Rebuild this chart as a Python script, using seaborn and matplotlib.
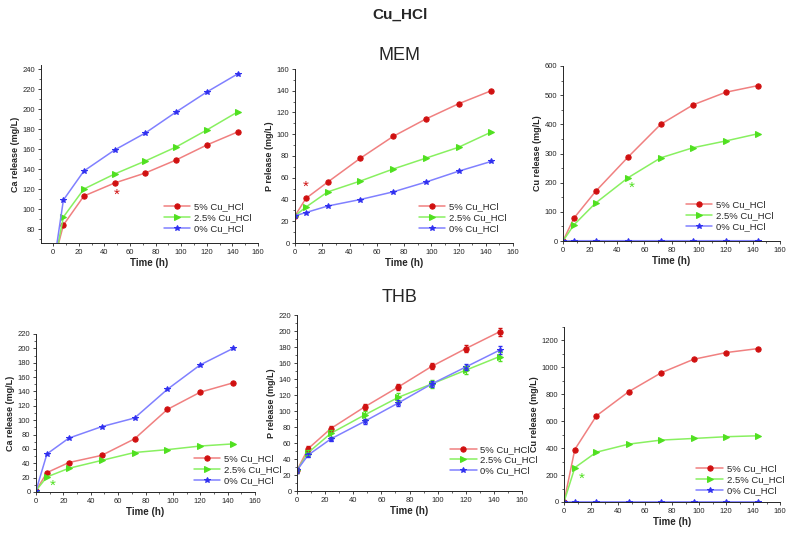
import numpy as np
import pandas as pd
import matplotlib
matplotlib.use("Agg")
import matplotlib.pyplot as plt
from matplotlib.ticker import AutoMinorLocator
import seaborn as sns

sns.set_style("ticks")
plt.rcParams['font.family'] = ['Liberation Sans', 'DejaVu Sans']

# time points (h)
time = [0, 8, 24, 48, 72, 96, 120, 144]
series = ["5% Cu_HCl", "2.5% Cu_HCl", "0% Cu_HCl"]

# MEM
ca_mem_5 = [45, 84, 113, 126, 136, 149, 164, 177]
ca_mem_25 = [40, 92, 120, 135, 148, 162, 179, 197]
ca_mem_0 = [40, 109, 138, 159, 176, 197, 217, 235]

p_mem_5 = [25, 41, 56, 78, 98, 114, 128, 140]
p_mem_25 = [25, 33, 47, 57, 68, 78, 88, 102]
p_mem_0 = [25, 28, 34, 40, 47, 56, 66, 75]

cu_mem_5 = [0, 78, 170, 288, 400, 467, 510, 533]
cu_mem_25 = [0, 55, 130, 217, 285, 320, 343, 368]
cu_mem_0 = [0, 1, 1, 1, 1, 1, 1, 1]

# THB
ca_thb_5 = [2, 27, 41, 51, 74, 115, 139, 152]
ca_thb_25 = [2, 21, 33, 44, 55, 59, 64, 67]
ca_thb_0 = [2, 53, 75, 91, 103, 143, 177, 200]

p_thb_5 = [26, 53, 78, 105, 130, 156, 178, 199]
p_thb_25 = [26, 48, 72, 95, 117, 134, 151, 168]
p_thb_0 = [26, 45, 65, 87, 110, 134, 155, 176]
p_thb_err_5 = [3, 3, 3, 4, 4, 4, 4, 5]
p_thb_err_25 = [3, 3, 4, 5, 5, 5, 5, 6]
p_thb_err_0 = [3, 3, 3, 3, 4, 4, 4, 5]

cu_thb_5 = [0, 390, 640, 820, 960, 1060, 1110, 1140]
cu_thb_25 = [0, 255, 370, 430, 460, 472, 485, 492]
cu_thb_0 = [0, 1, 1, 1, 1, 1, 1, 1]

line_colors = ["#f08080", "#88f060", "#8080ff"]
marker_colors = ["#d01010", "#50e020", "#3030f0"]
markers = ["o", ">", "*"]
marker_sizes = [3.8, 3.8, 4.2]

fig = plt.figure(figsize=(8, 5.4), dpi=100)
W, H = 800, 540


def add_axes(l, r, t, b):
    return fig.add_axes([l / W, 1 - b / H, (r - l) / W, (b - t) / H])


def panel(ax, vals, ylabel, ylim, yticks, xlim=(0, 160), errs=None, star=None, legend_anchor=(1.0, 0.02)):
    rows = []
    for name, v in zip(series, vals):
        for t, y in zip(time, v):
            rows.append({"Time": t, "value": y, "series": name})
    df = pd.DataFrame(rows)
    sns.lineplot(data=df, x="Time", y="value", hue="series", style="series",
                 hue_order=series, style_order=series, palette=line_colors,
                 markers=markers, dashes=False, markersize=4, linewidth=1.1,
                 legend=False, ax=ax)
    lines = ax.lines[:3]
    for ln, mc, ms in zip(lines, marker_colors, marker_sizes):
        ln.set_markerfacecolor(mc)
        ln.set_markeredgecolor(mc)
        ln.set_markersize(ms)
    if errs is not None:
        for v, e, mc in zip(vals, errs, marker_colors):
            ax.errorbar(time, v, yerr=e, fmt="none", ecolor=mc, elinewidth=0.8, capsize=1.5)
    if star is not None:
        x, y, c = star
        ax.text(x, y, "*", color=c, fontsize=11, ha="center", va="center")
    ax.set_xlim(*xlim)
    ax.set_ylim(*ylim)
    ax.set_xticks(range(0, 161, 20))
    ax.set_yticks(yticks)
    ax.xaxis.set_minor_locator(AutoMinorLocator(2))
    ax.yaxis.set_minor_locator(AutoMinorLocator(2))
    ax.tick_params(labelsize=5.5, length=2.5, width=0.6, pad=1.5)
    ax.tick_params(which="minor", length=1.5, width=0.5)
    ax.set_xlabel("Time (h)", fontsize=7, fontweight="bold", labelpad=2)
    ax.set_ylabel(ylabel, fontsize=6.5, fontweight="bold", labelpad=2)
    sns.despine(ax=ax)
    for s in ("left", "bottom"):
        ax.spines[s].set_linewidth(0.7)
    ax.legend(lines, series, loc="lower right", bbox_to_anchor=legend_anchor,
              frameon=False, fontsize=6.8, handlelength=2.8, labelspacing=0.2,
              borderpad=0.2, handletextpad=0.4)


ax1 = add_axes(41, 258, 65, 243)
panel(ax1, [ca_mem_5, ca_mem_25, ca_mem_0], "Ca release (mg/L)", (66, 244),
      range(80, 241, 20), xlim=(-9.5, 160), star=(50, 114, "#d01010"))

ax2 = add_axes(295, 513, 69, 243)
panel(ax2, [p_mem_5, p_mem_25, p_mem_0], "P release (mg/L)", (0, 160),
      range(0, 161, 20), star=(8, 52, "#d01010"))

ax3 = add_axes(563, 780, 66, 241)
panel(ax3, [cu_mem_5, cu_mem_25, cu_mem_0], "Cu release (mg/L)", (0, 600),
      range(0, 601, 100), star=(51, 182, "#50e020"))

ax4 = add_axes(36, 255, 334, 492)
panel(ax4, [ca_thb_5, ca_thb_25, ca_thb_0], "Ca release (mg/L)", (0, 220),
      range(0, 221, 20), star=(12, 9, "#50e020"), legend_anchor=(1.15, 0.0))

ax5 = add_axes(297, 522, 315, 491)
panel(ax5, [p_thb_5, p_thb_25, p_thb_0], "P release (mg/L)", (0, 220),
      range(0, 221, 20), errs=[p_thb_err_5, p_thb_err_25, p_thb_err_0],
      legend_anchor=(1.1, 0.05))

ax6 = add_axes(564, 780, 327, 502)
panel(ax6, [cu_thb_5, cu_thb_25, cu_thb_0], "Cu release (mg/L)", (0, 1300),
      range(0, 1201, 200), star=(13, 175, "#50e020"), legend_anchor=(1.05, 0.0))

fig.text(0.5, 1 - 15 / H, "Cu_HCl", ha="center", va="center", fontsize=11, fontweight="bold")
fig.text(0.5, 1 - 56 / H, "MEM", ha="center", va="center", fontsize=13)
fig.text(0.5, 1 - 298 / H, "THB", ha="center", va="center", fontsize=13)

fig.savefig("out.png", dpi=100)
